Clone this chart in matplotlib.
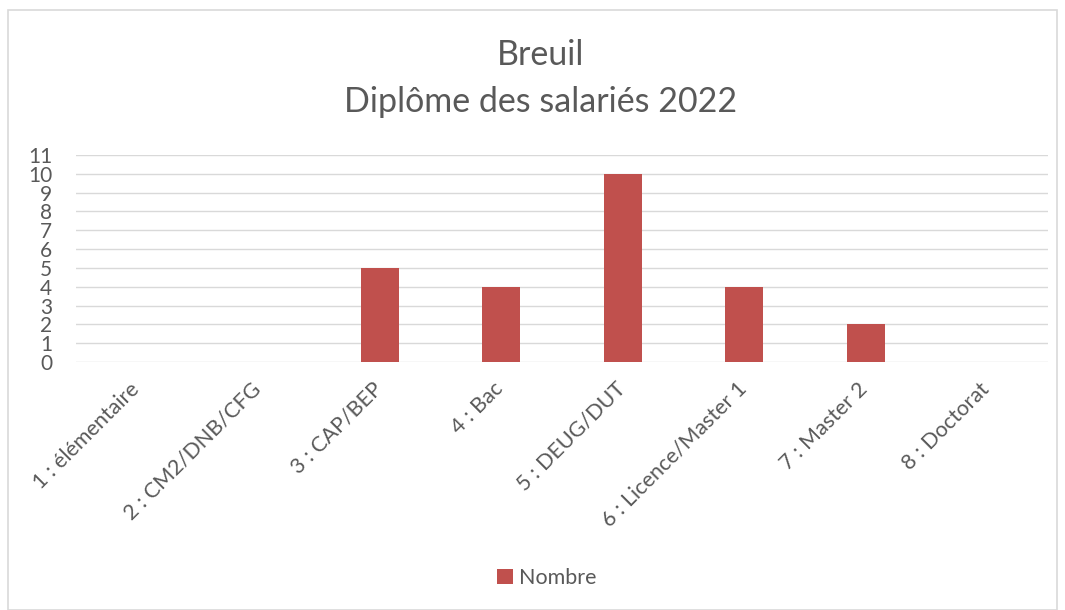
import matplotlib
matplotlib.use("Agg")
import matplotlib.pyplot as plt
from matplotlib.patches import Rectangle
from matplotlib.transforms import ScaledTranslation

categories = ["1 : élémentaire", "2 : CM2/DNB/CFG", "3 : CAP/BEP", "4 : Bac",
              "5 : DEUG/DUT", "6 : Licence/Master 1", "7 : Master 2", "8 : Doctorat"]
values = [0, 0, 5, 4, 10, 4, 2, 0]
yticks = list(range(0, 12))

plt.rcParams['font.family'] = ['Lato', 'DejaVu Sans']
txt = '#595959'
W, H = 1065, 610
fig = plt.figure(figsize=(W/100, H/100), dpi=100)
fig.patches.append(Rectangle((8/W, 0), (1057-8)/W, (H-10)/H, transform=fig.transFigure,
                             fill=False, edgecolor='#d9d9d9', linewidth=1.2))
ax = fig.add_axes([76/W, 1-362/H, (1048-76)/W, (362-155)/H])
x = list(range(len(categories)))
bars = ax.bar(x, values, width=0.31, color='#C0504D', label='Nombre', zorder=3)
ax.set_xlim(-0.5, len(categories)-0.5)
ax.set_ylim(0, 11)
ax.set_yticks(yticks)
ax.set_yticklabels([str(t) for t in yticks], color=txt, fontsize=15)
ax.grid(axis='y', color='#d9d9d9', linewidth=1.0, zorder=0)
for s in ax.spines.values():
    s.set_visible(False)
ax.tick_params(axis='both', length=0)
ax.tick_params(axis='y', pad=17)
ax.set_xticks(x)
ax.set_xticklabels(categories, rotation=45, ha='right', va='top', rotation_mode='anchor',
                   color=txt, fontsize=15.5)
ax.tick_params(axis='x', pad=12)
offset = ScaledTranslation(-8/100, 0, fig.dpi_scale_trans)
for lab in ax.get_xticklabels():
    lab.set_transform(lab.get_transform() + offset)
fig.text(541/W, 1-55/H, "Breuil", ha='center', va='center', fontsize=24.5, color=txt)
fig.text(541/W, 1-102/H, "Diplôme des salariés 2022", ha='center', va='center', fontsize=24.5, color=txt)
fig.legend(handles=[bars], labels=['Nombre'], loc='center', bbox_to_anchor=(547/W, 1-578/H),
           frameon=False, fontsize=15.5, labelcolor=txt, handlelength=0.7, handleheight=0.7,
           handletextpad=0.3)
fig.savefig("out.png", dpi=100)
